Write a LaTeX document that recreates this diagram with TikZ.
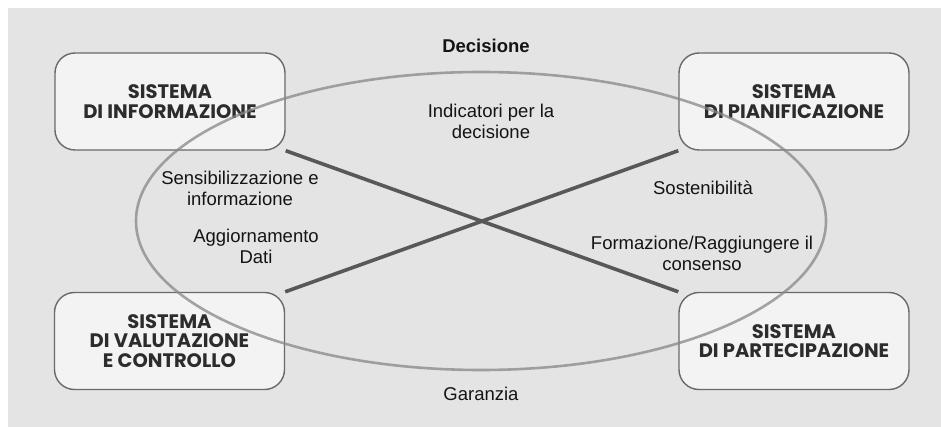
\documentclass[tikz,border=0pt]{standalone}
\usepackage{fontspec}
\setmainfont{Liberation Sans}
\newfontfamily\boxfont{Poppins}
\definecolor{panel}{RGB}{228,228,228}
\definecolor{boxfill}{RGB}{243,243,243}
\definecolor{boxline}{RGB}{105,105,105}
\definecolor{ringline}{RGB}{135,135,135}
\definecolor{crossline}{RGB}{88,88,88}
\definecolor{ink}{RGB}{20,20,20}
\tikzset{
  sysbox/.style={draw=boxline, line width=1.4pt, fill=boxfill, rounded corners=20pt,
    minimum width=230pt, minimum height=97pt, inner sep=0pt, align=center,
    text=ink!90, font=\boxfont\bfseries\fontsize{19.5}{19.5}\selectfont},
  lbl/.style={text=ink, align=center, inner sep=0pt,
    font=\fontsize{18.5}{21}\selectfont},
  ring/.style={draw=ringline, line width=2.6pt, opacity=0.75},
  link/.style={draw=crossline, line width=3.6pt}
}
\begin{document}
\begin{tikzpicture}[x=1pt,y=-1pt]
  % page and grey panel
  \useasboundingbox (0,0) rectangle (941,427);
  \fill[white] (0,0) rectangle (941,427);
  \fill[panel] (8,8) rectangle (941,427);

  % the four systems
  \node[sysbox] (info) at (170,101.5) {SISTEMA\\DI INFORMAZIONE};
  \node[sysbox] (pian) at (794,101.5) {SISTEMA\\DI PIANIFICAZIONE};
  \node[sysbox] (valu) at (169.5,341) {SISTEMA\\DI VALUTAZIONE\\E CONTROLLO};
  \node[sysbox] (part) at (794,341) {SISTEMA\\DI PARTECIPAZIONE};

  % crossing links between opposite corners
  \draw[link] (info.south east) -- (part.north west);
  \draw[link] (valu.north east) -- (pian.south west);

  % surrounding cycle
  \coordinate (mid) at (481,221);
  \draw[ring] (mid) ellipse [x radius=345pt, y radius=149pt];

  % labels
  \node[lbl, anchor=base, font=\bfseries\fontsize{18.5}{21}\selectfont] (dec) at (486,53) {Decisione};
  \node[lbl] (ind) at (491,121) {Indicatori per la\\decisione};
  \node[lbl] (sens) at (240,188.6) {Sensibilizzazione e\\informazione};
  \node[lbl] (agg) at (256,246) {Aggiornamento\\Dati};
  \node[lbl, anchor=base] (sost) at (703,195) {Sostenibilità};
  \node[lbl] (form) at (702,253.6) {Formazione/Raggiungere il\\consenso};
  \node[lbl, anchor=base] (gar) at (481,400) {Garanzia};
\end{tikzpicture}
\end{document}
